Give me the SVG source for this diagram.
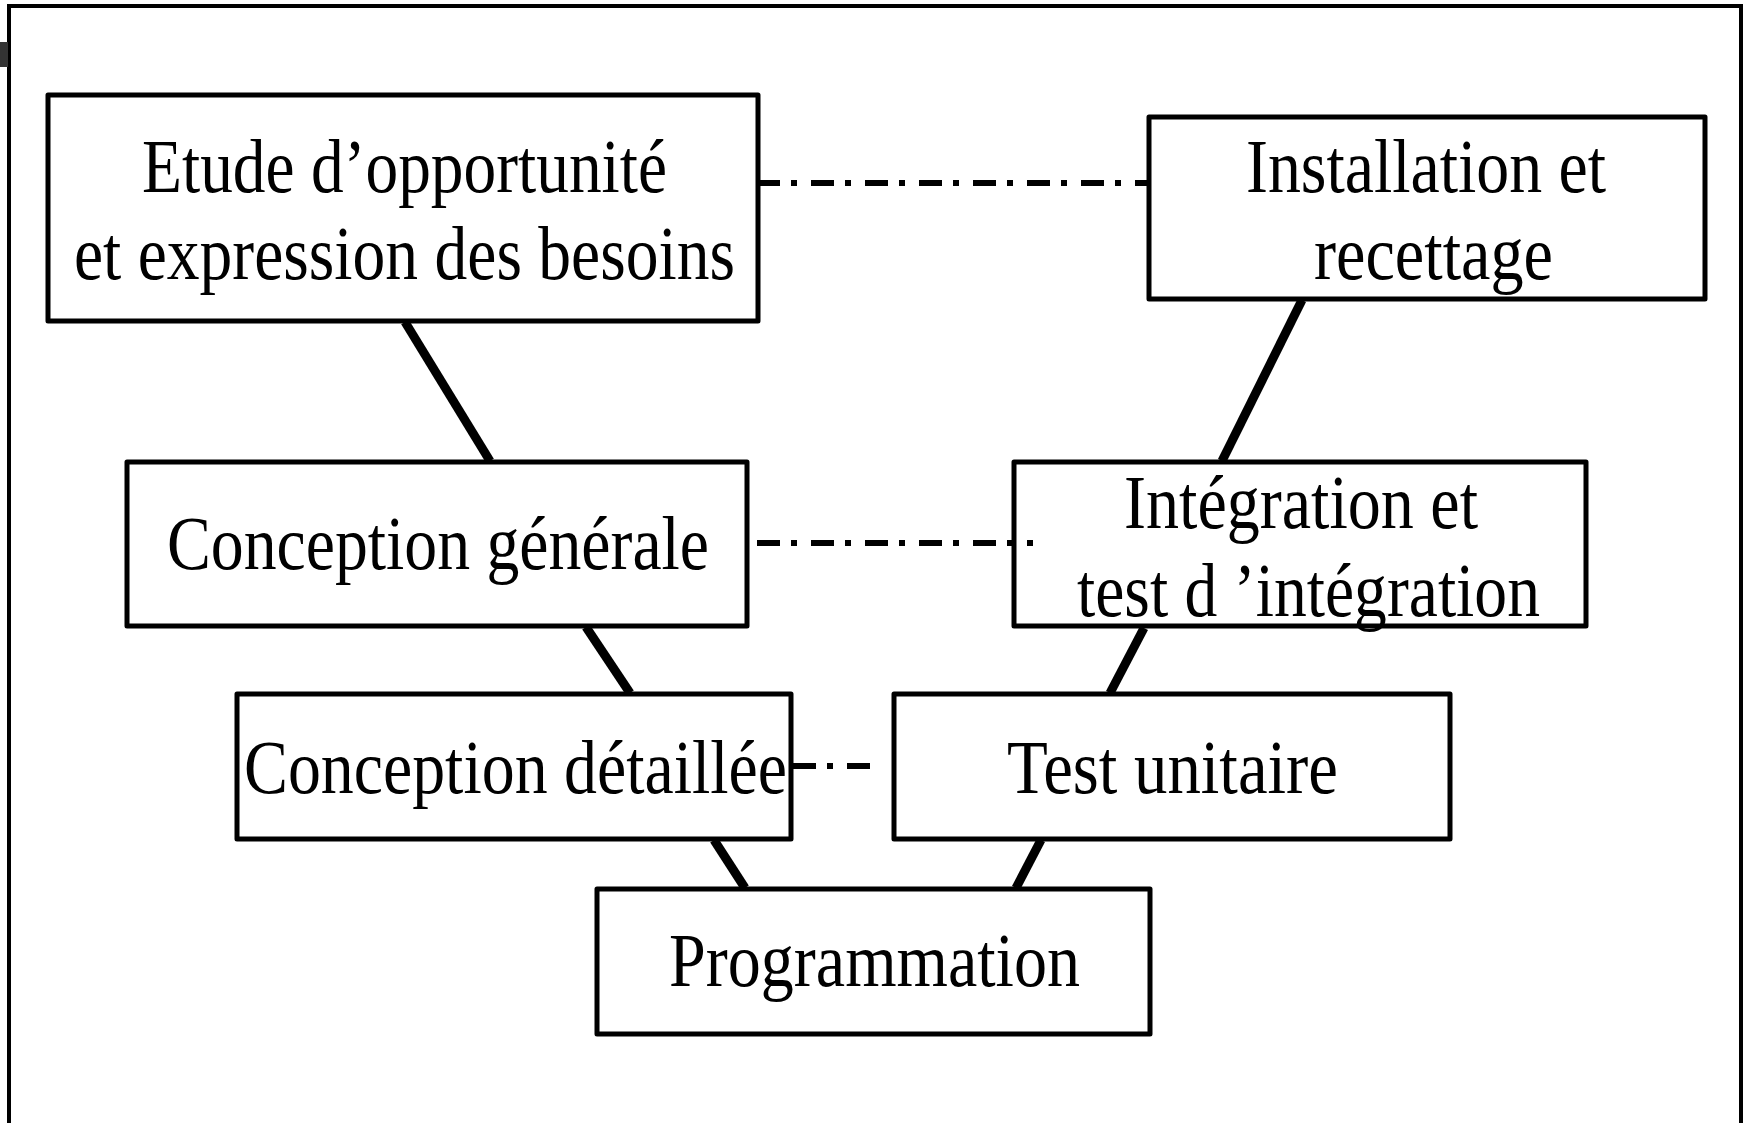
<svg xmlns="http://www.w3.org/2000/svg" width="1749" height="1123" viewBox="0 0 1749 1123">
<style>
.box{fill:#fff;stroke:#000;stroke-width:5;stroke-linejoin:round}
.lbl{font-family:"Liberation Serif","Times New Roman",serif;font-size:76px;fill:#000}
.solid{stroke:#000;stroke-width:9;fill:none}
.dd{stroke:#000;stroke-width:6;fill:none;stroke-dasharray:23 11 6 14}
</style>
<rect width="1749" height="1123" fill="#fff"/>
<path d="M9,1130 V6 H1741 V1130" fill="none" stroke="#000" stroke-width="4"/>
<rect x="0" y="42" width="8" height="25" fill="#333"/>
<g id="n-etude">
<rect class="box" x="48" y="95" width="710" height="226"/>
<text class="lbl" x="142" y="192" textLength="525" lengthAdjust="spacingAndGlyphs">Etude d’opportunité</text>
<text class="lbl" x="74" y="279" textLength="661" lengthAdjust="spacingAndGlyphs">et expression des besoins</text>
</g>
<g id="n-install">
<rect class="box" x="1149" y="117" width="556" height="182"/>
<text class="lbl" x="1246" y="192" textLength="360" lengthAdjust="spacingAndGlyphs">Installation et</text>
<text class="lbl" x="1314" y="279" textLength="239" lengthAdjust="spacingAndGlyphs">recettage</text>
</g>
<g id="n-cgen">
<rect class="box" x="127" y="462" width="620" height="164"/>
<text class="lbl" x="167" y="569" textLength="542" lengthAdjust="spacingAndGlyphs">Conception générale</text>
</g>
<g id="n-integ">
<rect class="box" x="1014" y="462" width="572" height="164"/>
<text class="lbl" x="1124" y="528" textLength="354" lengthAdjust="spacingAndGlyphs">Intégration et</text>
<text class="lbl" x="1077" y="616" textLength="463" lengthAdjust="spacingAndGlyphs">test d ’intégration</text>
</g>
<g id="n-cdet">
<rect class="box" x="237" y="694" width="554" height="145"/>
<text class="lbl" x="244" y="793" textLength="543" lengthAdjust="spacingAndGlyphs">Conception détaillée</text>
</g>
<g id="n-test">
<rect class="box" x="894" y="694" width="556" height="145"/>
<text class="lbl" x="1007" y="793" textLength="331" lengthAdjust="spacingAndGlyphs">Test unitaire</text>
</g>
<g id="n-prog">
<rect class="box" x="597" y="889" width="553" height="145"/>
<text class="lbl" x="669" y="986" textLength="411" lengthAdjust="spacingAndGlyphs">Programmation</text>
</g>
<g id="connectors">
<line class="solid" x1="405" y1="322" x2="490" y2="461"/>
<line class="solid" x1="586" y1="627" x2="630" y2="693"/>
<line class="solid" x1="714" y1="840" x2="745" y2="888"/>
<line class="solid" x1="1302" y1="300" x2="1222" y2="461"/>
<line class="solid" x1="1144" y1="628" x2="1110" y2="693"/>
<line class="solid" x1="1041" y1="840" x2="1016" y2="888"/>
<line class="dd" x1="757" y1="183" x2="1150" y2="183"/>
<line class="dd" x1="757" y1="543" x2="1033" y2="543"/>
<line class="dd" x1="793" y1="766" x2="870" y2="766"/>
</g>
</svg>
